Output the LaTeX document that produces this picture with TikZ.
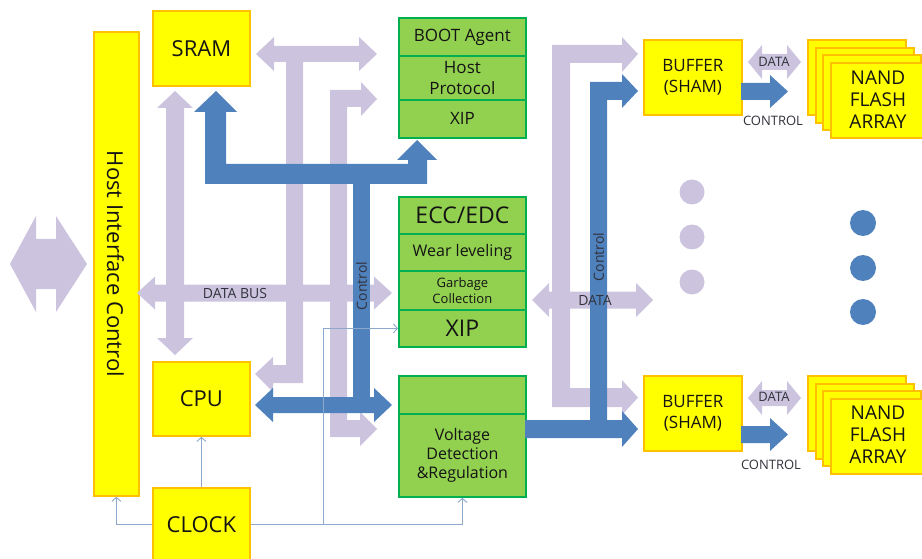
\documentclass[tikz,border=0pt]{standalone}
\usepackage{fontspec}
\setmainfont{Open Sans}
\usetikzlibrary{arrows.meta}
\definecolor{yel}{RGB}{255,255,0}
\definecolor{orb}{RGB}{255,192,0}
\definecolor{grn}{RGB}{146,208,80}
\definecolor{grb}{RGB}{0,176,80}
\definecolor{lav}{RGB}{204,196,222}
\definecolor{blu}{RGB}{79,129,189}
\definecolor{thl}{RGB}{140,168,204}
\definecolor{txt}{RGB}{20,20,20}
\definecolor{ltxt}{RGB}{50,50,60}
\newcommand\fsz[2]{\fontsize{#1}{#2}\selectfont}
\begin{document}
\begin{tikzpicture}[x=1pt,y=-1pt,
  ybox/.style={draw=orb, fill=yel, line width=1.8pt, inner sep=0pt, text=txt, anchor=north west, align=center},
  gbox/.style={draw=grb, fill=grn, line width=1.8pt, inner sep=0pt, minimum width=127, align=center, anchor=north west, text=txt},
  lavf/.style={fill=lav},
  bluf/.style={fill=blu},
  lbl/.style={text=ltxt, inner sep=0pt},
  tl/.style={draw=thl, line width=0.9pt, -{Straight Barb[length=4pt,width=9pt]}}]
\useasboundingbox (0,0) rectangle (922,559);
% ---------- yellow boxes ----------
\node[ybox, minimum width=45, minimum height=464] (hic) at (93,31) {};
\node[rotate=-90, text=txt, font=\fsz{22}{26}] (hict) at (115.5,264) {Host Interface Control};
\node[ybox, minimum width=97, minimum height=75, font=\fsz{22}{26}] (sram) at (152,10) {SRAM};
\node[ybox, minimum width=97, minimum height=74, font=\fsz{22}{26}] (cpu) at (152,361) {CPU};
\node[ybox, minimum width=97, minimum height=74, font=\fsz{22}{26}] (clock) at (152,487) {CLOCK};
\node[ybox, minimum width=98, minimum height=75, font=\fsz{17}{21}] (buf1) at (643,39) {BUFFER\\(SHAM)};
\node[ybox, minimum width=98, minimum height=75, font=\fsz{17}{21}] (buf2) at (643,375) {BUFFER\\(SHAM)};
\foreach \dx/\dy [count=\i] in {807/39,815/47,822/54,830/62}{
  \node[ybox, minimum width=98, minimum height=75] (na\i) at (\dx,\dy) {};
  \node[ybox, minimum width=98, minimum height=75] (nb\i) at (\dx,\dy+336) {};
}
\node[text=txt, font=\fsz{19}{22}, align=center] (nandA) at (878,100) {NAND\\FLASH\\ARRAY};
\node[text=txt, font=\fsz{19}{22}, align=center] (nandB) at (878,435) {NAND\\FLASH\\ARRAY};
% ---------- green boxes ----------
\node[gbox, minimum height=38, font=\fsz{17}{21}] (boot) at (398,17) {BOOT Agent};
\node[gbox, minimum height=44, font=\fsz{17}{21}] (hp) at (398,55) {Host\\Protocol};
\node[gbox, minimum height=38, font=\fsz{17}{21}] (xip1) at (398,99) {XIP};
\node[gbox, minimum height=37, font=\fsz{23}{26}] (ecc) at (398,196) {ECC/EDC};
\node[gbox, minimum height=37, font=\fsz{16}{20}] (wear) at (398,233) {Wear leveling};
\node[gbox, minimum height=39, font=\fsz{13}{16}] (garb) at (398,270) {Garbage\\Collection};
\node[gbox, minimum height=37, font=\fsz{23}{26}] (xip2) at (398,309) {XIP};
\node[gbox, minimum height=38] (vtop) at (398,375) {};
\node[gbox, minimum height=83, font=\fsz{16}{19}] (volt) at (398,413) {Voltage\\Detection\\\&Regulation};
% ---------- lavender block arrows ----------
\fill[lavf] (10,264) -- (36,216) -- (36,239) -- (56,239) -- (56,216) -- (87,264) -- (56,312) -- (56,289) -- (36,289) -- (36,312) -- cycle;
\fill[lavf] (256,54) -- (274,37) -- (274,46) -- (359,46) -- (359,37) -- (377,54) -- (359,71) -- (359,62) -- (303,62) -- (303,383) -- (273,383) -- (273,392) -- (255,374) -- (273,357) -- (273,365) -- (286,365) -- (286,62) -- (274,62) -- (274,71) -- cycle;
\fill[lavf] (330,90) -- (361,90) -- (361,82) -- (377,99) -- (361,116) -- (361,107) -- (347,107) -- (347,420) -- (360,420) -- (360,412) -- (377,429) -- (360,446) -- (360,437) -- (330,437) -- cycle;
\fill[lavf] (137,293) -- (155,276.5) -- (155,284.5) -- (374,284.5) -- (374,276.5) -- (392,293) -- (374,309.5) -- (374,301.5) -- (155,301.5) -- (155,309.5) -- cycle;
\fill[lavf] (175,91) -- (193,108) -- (184,108) -- (184,338) -- (193,338) -- (175,355) -- (157,338) -- (166,338) -- (166,108) -- (157,108) -- cycle;
\fill[lavf] (552,45) -- (622,45) -- (622,37) -- (638,54) -- (622,72) -- (622,63) -- (570,63) -- (570,388) -- (622,388) -- (622,380) -- (638,397.5) -- (622,415) -- (622,407) -- (552,407) -- cycle;
\fill[lavf] (532,300) -- (549,283) -- (549,291.5) -- (636,291.5) -- (636,283) -- (653,300) -- (636,317) -- (636,308.5) -- (549,308.5) -- (549,317) -- cycle;
\foreach \yy in {62,398}{
  \fill[lavf] (748,\yy) -- (762,\yy-17) -- (762,\yy-8) -- (787,\yy-8) -- (787,\yy-17) -- (801,\yy) -- (787,\yy+17) -- (787,\yy+8) -- (762,\yy+8) -- (762,\yy+17) -- cycle;
}
% ---------- blue block arrows ----------
\fill[bluf] (216,91) -- (237,112) -- (226,112) -- (226,164) -- (408,164) -- (408,160) -- (397,160) -- (417,140) -- (437,160) -- (427,160) -- (427,184) -- (205,184) -- (205,112) -- (194,112) -- cycle;
\fill[bluf] (353,180) rectangle (370,400);
\fill[bluf] (255,405) -- (273,388) -- (273,397) -- (374,397) -- (374,388) -- (392,405) -- (374,422) -- (374,413) -- (273,413) -- (273,422) -- cycle;
\fill[bluf] (525,420) -- (590,420) -- (590,82) -- (622,82) -- (622,74) -- (638,91) -- (622,108) -- (622,100) -- (607,100) -- (607,420) -- (622,420) -- (622,411) -- (638,429) -- (622,447) -- (622,438) -- (525,438) -- cycle;
\foreach \yy in {91.5,434.5}{
  \fill[bluf] (741,\yy-8.5) -- (770,\yy-8.5) -- (770,\yy-16.5) -- (788,\yy) -- (770,\yy+16.5) -- (770,\yy+8.5) -- (741,\yy+8.5) -- cycle;
}
% ---------- dots ----------
\foreach \yy in {192,237,282}{\fill[lav] (692,\yy) circle[radius=12.5];}
\foreach \yy in {223,268,312}{\fill[blu] (863,\yy) circle[radius=13];}
% ---------- labels ----------
\node[lbl, font=\fsz{14}{16}] (dbus) at (235,293) {DATA BUS};
\node[lbl, font=\fsz{14}{16}, rotate=90] (ctl1) at (361.5,286) {Control};
\node[lbl, font=\fsz{14}{16}, rotate=90] (ctl2) at (598.5,257) {Control};
\node[lbl, font=\fsz{14}{16}] (data1) at (595,300) {DATA};
\node[lbl, font=\fsz{13}{15}] (d2) at (774,62) {DATA};
\node[lbl, font=\fsz{13}{15}] (d3) at (774,397) {DATA};
\node[lbl, font=\fsz{13}{15}] (c2) at (773,121) {CONTROL};
\node[lbl, font=\fsz{13}{15}] (c3) at (771,465) {CONTROL};
% ---------- thin clock lines ----------
\coordinate (br) at (323,524);
\draw[tl] (clock.west) -| (hic.south);
\draw[tl] (clock.north) -- (cpu.south);
\draw[tl] (clock.east) -| (volt.south);
\draw[tl] (br) |- (xip2.west);
\end{tikzpicture}
\end{document}
